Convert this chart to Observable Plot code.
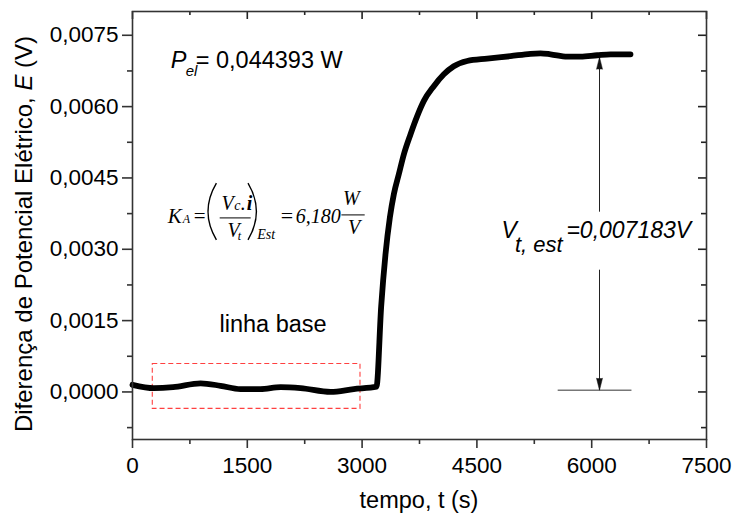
<!DOCTYPE html>
<html><head><meta charset="utf-8">
<script src="https://cdn.jsdelivr.net/npm/d3@7"></script>
<script src="https://cdn.jsdelivr.net/npm/@observablehq/plot@0.6"></script>
<style>body{margin:0;background:#fff;} svg{display:block}</style>
</head><body><div id="chart"></div>
<script>
// ---- data ----
const tempo = [0, 280, 530, 890, 1150, 1410, 1670, 1935, 2196, 2588, 2890, 3188,
  3249, 3306, 3363, 3415, 3480, 3546, 3633, 3720, 3807, 3937, 4068, 4198, 4373,
  4635, 4939, 5200, 5331, 5462, 5680, 5854, 6072, 6246, 6507];
const tensao = [0.00015, 0.00008, 0.0001, 0.00018, 0.00013, 0.00006, 0.00006, 0.0001, 0.00008, 0.0, 0.00006, 0.00011,
  0.00179, 0.0029, 0.00367, 0.00416, 0.00458, 0.005, 0.00542, 0.0058, 0.00612, 0.00643, 0.00668, 0.00685, 0.00696,
  0.00701, 0.00706, 0.00711, 0.00712, 0.0071, 0.00705, 0.00705, 0.00708, 0.0071, 0.0071];
const xTicks = [0, 1500, 3000, 4500, 6000, 7500];
const xMinor = [750, 2250, 3750, 5250, 6750];
const yTicks = [0, 0.0015, 0.003, 0.0045, 0.006, 0.0075];
const yMinor = [-0.00075, 0.00075, 0.00225, 0.00375, 0.00525, 0.00675];
const xLabel = "tempo, t (s)";
const yLabel = "Diferença de Potencial Elétrico, ";
const baseBox = [{x1: 265, x2: 2979, y1: -0.000356, y2: 0.000587}];
const arrowT = 6102;
const arrowTop = 0.00704, arrowBottom = 0.000036;
const gapTop = 0.00378, gapBottom = 0.00256;
const refLine = [{t1: 5562, t2: 6526, v: 0.000036}];

const data = tempo.map((t, i) => ({t, v: tensao[i]}));
const fmtY = d => d.toFixed(4).replace(".", ",");
const blank = () => "";
const AX = {stroke: "#333", strokeWidth: 1.6, label: null};

const W = 736, H = 516, mT = 11, mB = 77, mL = 132, mR = 30;
const xDom = [0, 7500], yDom = [-0.001, 0.008];
const fw = W - mL - mR, fh = H - mT - mB;
// pixel length -> data length, for the inward ticks on the top and right edges
const ux = (xDom[1] - xDom[0]) / fw, uy = (yDom[1] - yDom[0]) / fh;
const topTicks = [...xTicks.map(t => ({t, a: yDom[1], b: yDom[1] - 8 * uy})), ...xMinor.map(t => ({t, a: yDom[1], b: yDom[1] - 4 * uy}))];
const rightTicks = [...yTicks.map(v => ({v, a: xDom[1], b: xDom[1] - 8 * ux})), ...yMinor.map(v => ({v, a: xDom[1], b: xDom[1] - 5 * ux}))];

const plot = Plot.plot({
  width: W, height: H,
  marginTop: mT, marginBottom: mB, marginLeft: mL, marginRight: mR,
  style: {fontFamily: "'Liberation Sans', Arial, sans-serif", fontSize: "22.5px", color: "#000", background: "#fff"},
  x: {domain: xDom},
  y: {domain: yDom},
  marks: [
    Plot.rect(baseBox, {x1: "x1", x2: "x2", y1: "y1", y2: "y2", fill: "none", stroke: "#ff4040", strokeWidth: 1.1, strokeDasharray: "5,3"}),
    Plot.ruleY(refLine, {y: "v", x1: "t1", x2: "t2", stroke: "#777", strokeWidth: 1.6}),
    Plot.ruleX([{t: arrowT, a: arrowBottom, b: gapBottom}, {t: arrowT, a: gapTop, b: arrowTop}], {x: "t", y1: "a", y2: "b", stroke: "#222", strokeWidth: 1}),
    Plot.vector([{t: arrowT, v: arrowTop}], {x: "t", y: "v", length: 12, r: 3, rotate: 0, anchor: "end", shape: "spike", fill: "#111", stroke: "#111", strokeWidth: 0.5}),
    Plot.vector([{t: arrowT, v: arrowBottom}], {x: "t", y: "v", length: 12, r: 3, rotate: 180, anchor: "end", shape: "spike", fill: "#111", stroke: "#111", strokeWidth: 0.5}),
    Plot.line(data, {x: "t", y: "v", curve: "monotone-x", stroke: "#000", strokeWidth: 5.8, strokeLinejoin: "round", strokeLinecap: "round"}),
    Plot.axisX({...AX, ticks: xTicks, tickSize: 9, tickPadding: 9, tickFormat: d => String(d)}),
    Plot.axisX({...AX, ticks: xMinor, tickSize: 5, tickFormat: blank}),
    Plot.axisY({...AX, ticks: yTicks, tickSize: 10, tickPadding: 4, tickFormat: fmtY}),
    Plot.axisY({...AX, ticks: yMinor, tickSize: 5, tickFormat: blank}),
    Plot.ruleX(topTicks, {x: "t", y1: "a", y2: "b", stroke: "#222", strokeWidth: 1.6}),
    Plot.ruleY(rightTicks, {y: "v", x1: "a", x2: "b", stroke: "#222", strokeWidth: 1.6}),
    Plot.frame({stroke: "#333", strokeWidth: 1.6})
  ]
});
document.getElementById("chart").appendChild(plot);

// ---- annotations, anchored through the plot scales ----
const sx = plot.scale("x"), sy = plot.scale("y");
const svg = d3.select(plot);
const SANS = "'Liberation Sans', Arial, sans-serif";
const SERIF = "'Liberation Serif', 'Times New Roman', serif";
function put(g, x, y, s, o = {}) {
  const t = g.append("text").attr("x", x).attr("y", y).text(s)
    .attr("font-family", o.family || SANS).attr("font-size", o.size || 22.5)
    .attr("fill", "#000").attr("text-anchor", o.anchor || "start");
  if (o.italic) t.attr("font-style", "italic");
  if (o.bold) t.attr("font-weight", "bold");
  return t;
}

// axis titles
put(svg, (sx.apply(0) + sx.apply(7500)) / 2, 508, xLabel, {anchor: "middle", size: 23.5});
const yt = svg.append("text").attr("transform", `translate(31.5,${(sy.apply(-0.001) + sy.apply(0.008)) / 2 + 9}) rotate(-90)`)
  .attr("text-anchor", "middle").attr("font-family", SANS).attr("font-size", 24).attr("fill", "#000");
yt.append("tspan").text(yLabel);
yt.append("tspan").attr("font-style", "italic").text("E");
yt.append("tspan").text(" (V)");

// P_el
{
  const x = sx.apply(506), y = sy.apply(0.0068);
  const g = svg.append("g").attr("transform", `translate(${x},${y})`);
  put(g, 0, 0, "P", {italic: true, size: 23.5});
  put(g, 15, 8, "el", {italic: true, size: 15});
  put(g, 25, 0, "= 0,044393 W", {size: 23.5});
}

// linha base
put(svg, sx.apply(1843), sy.apply(0.00124), "linha base", {anchor: "middle", size: 23.5});

// V_t,est
{
  const x = sx.apply(4827), y = sy.apply(0.00322);
  const g = svg.append("g").attr("transform", `translate(${x},${y})`);
  put(g, 0, 0, "V", {italic: true, size: 23});
  put(g, 13.5, 13.4, "t, est", {italic: true, size: 22});
  put(g, 65, 0, "=0,007183V", {italic: true, size: 23});
}

// K_A formula (Times)
{
  const x = sx.apply(466.5), y = sy.apply(0.003544);
  const g = svg.append("g").attr("transform", `translate(${x},${y})`);
  const S = {family: SERIF, size: 21};
  put(g, 0, 0, "K", {...S, italic: true});
  put(g, 15, 0, "A", {...S, italic: true, size: 12});
  put(g, 26, 0, "=", S);
  g.append("path").attr("d", "M48.7,-39.7 Q31.9,-11.3 48.7,17").attr("fill", "none").attr("stroke", "#000").attr("stroke-width", 1.4);
  g.append("path").attr("d", "M80.3,-39.7 Q97.1,-11.3 80.3,17").attr("fill", "none").attr("stroke", "#000").attr("stroke-width", 1.4);
  put(g, 53.7, -13, "V", {...S, italic: true, size: 20});
  put(g, 66.5, -13, "c", {...S, italic: true, size: 14});
  put(g, 72.5, -13, ".", {...S, size: 20});
  put(g, 79, -13, "i", {...S, italic: true, bold: true, size: 20});
  g.append("line").attr("x1", 52).attr("x2", 83).attr("y1", -5).attr("y2", -5).attr("stroke", "#000").attr("stroke-width", 1);
  put(g, 59.7, 14.3, "V", {...S, italic: true, size: 20});
  put(g, 70, 17, "t", {...S, italic: true, size: 12});
  put(g, 89.5, 16.5, "Est", {...S, italic: true, size: 14});
  put(g, 113, 0, "=", {...S, size: 22});
  put(g, 128, 0, "6,180", {...S, italic: true, size: 20});
  put(g, 175.3, -18, "W", {...S, italic: true, size: 20});
  g.append("line").attr("x1", 173.7).attr("x2", 197).attr("y1", -8).attr("y2", -8).attr("stroke", "#000").attr("stroke-width", 1);
  put(g, 180.3, 11, "V", {...S, italic: true, size: 20});
}
</script>
</body></html>
